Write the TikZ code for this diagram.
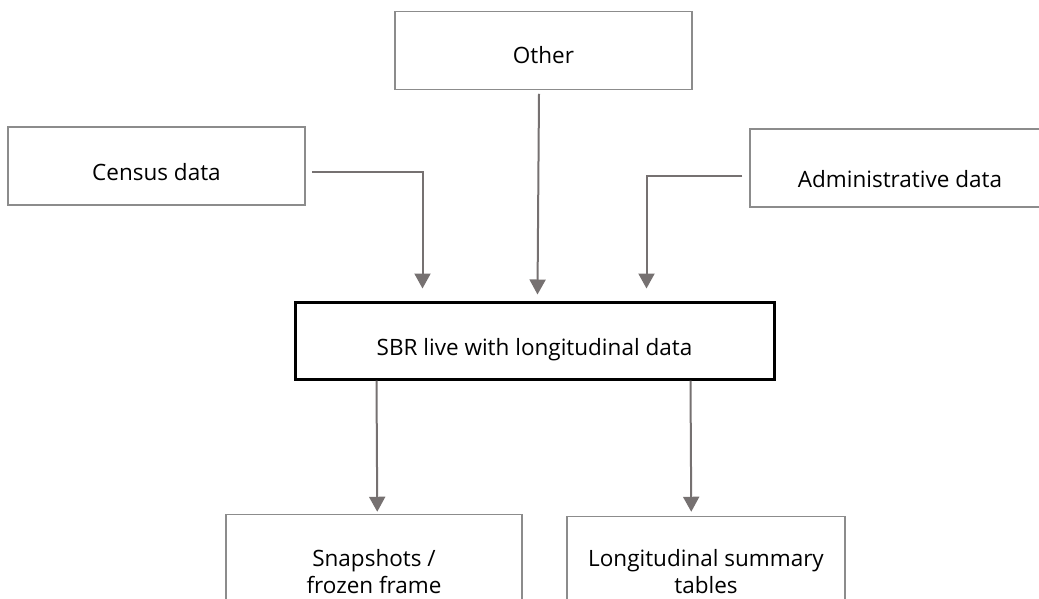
\documentclass[tikz,border=0pt]{standalone}
\usepackage{fontspec}
\setmainfont{Open Sans}
\usetikzlibrary{arrows.meta,calc}

\definecolor{linegray}{RGB}{118,113,113}
\definecolor{framegray}{RGB}{140,140,140}

\tikzset{
  srcbox/.style={draw=framegray, line width=1.5pt, fill=white, inner sep=0pt,
    text depth=0pt, font=\fontsize{22.5}{27}\selectfont},
  mainbox/.style={draw=black, line width=3pt, fill=white, inner sep=0pt,
    text depth=0pt, font=\fontsize{22.5}{27}\selectfont},
  outbox/.style={draw=framegray, line width=1.5pt, fill=white, inner sep=0pt,
    align=center, font=\fontsize{22.5}{27}\selectfont},
  flow/.style={draw=linegray, line width=2pt,
    -{Triangle[width=16pt,length=15pt,fill=linegray]}},
}

\begin{document}
\begin{tikzpicture}[x=1pt,y=-1pt]
  \path[use as bounding box, clip] (0,0) rectangle (1039,598);

  % source boxes
  \node[srcbox, minimum width=297pt, minimum height=78pt, text height=25pt]
    (other) at (543.5,50.5) {Other};
  \node[srcbox, minimum width=297pt, minimum height=78pt, text height=28pt]
    (census) at (156.5,166) {Census data};
  \node[srcbox, minimum width=300pt, minimum height=78pt, text height=38pt]
    (admin) at (900,168) {Administrative data};

  % central register
  \node[mainbox, minimum width=479pt, minimum height=77pt, text height=30pt]
    (sbr) at (534.5,340.5) {SBR live with longitudinal data};

  % outputs (running off the lower edge)
  \node[outbox, minimum width=296pt, minimum height=115pt]
    (snap) at (374,572) {Snapshots /\\frozen frame};
  \node[outbox, minimum width=278pt, minimum height=111pt]
    (long) at (706,572) {Longitudinal summary\\tables};

  % connector end points
  \coordinate (censusOut) at ($(census.east)+(6,6)$);
  \coordinate (censusIn)  at ($(sbr.north west)+(129,-12)$);
  \coordinate (otherOut)  at ($(other.south)+(-4.5,3.5)$);
  \coordinate (otherIn)   at ($(sbr.north west)+(244,-6)$);
  \coordinate (adminOut)  at ($(admin.west)+(-7,8)$);
  \coordinate (adminIn)   at ($(sbr.north west)+(353,-12)$);
  \coordinate (snapOut)   at ($(sbr.south west)+(83,0)$);
  \coordinate (snapIn)    at ($(snap.north west)+(152,-2)$);
  \coordinate (longOut)   at ($(sbr.south west)+(397,0)$);
  \coordinate (longIn)    at ($(long.north west)+(125,-4)$);

  % connectors
  \draw[flow] (censusOut) -| (censusIn);
  \draw[flow] (otherOut) -- (otherIn);
  \draw[flow] (adminOut) -| (adminIn);
  \draw[flow] (snapOut) -- (snapIn);
  \draw[flow] (longOut) -- (longIn);
\end{tikzpicture}
\end{document}
